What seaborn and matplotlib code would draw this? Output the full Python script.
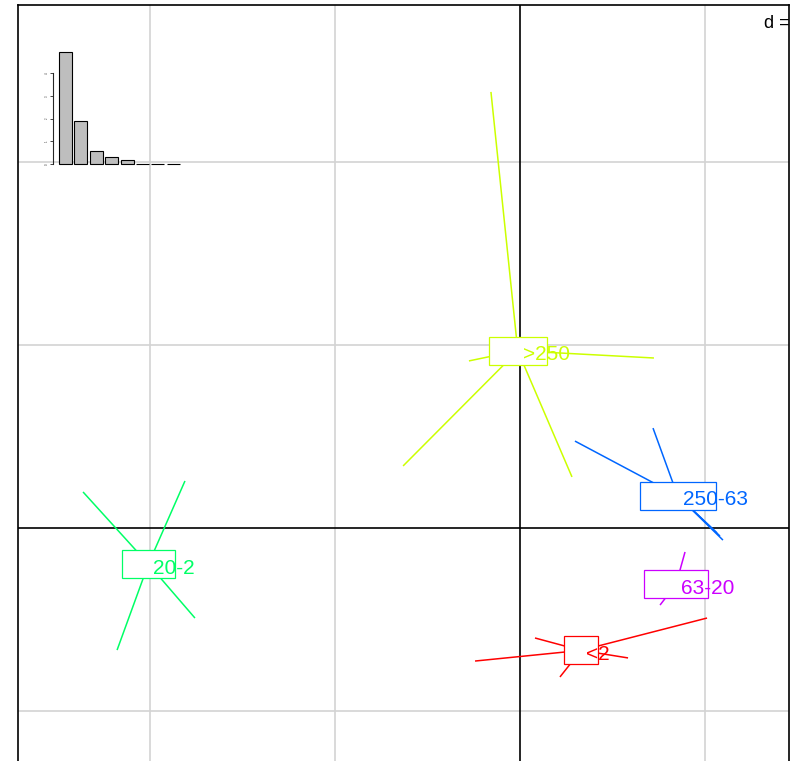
import numpy as np
import matplotlib
matplotlib.use("Agg")
import matplotlib.pyplot as plt
from matplotlib.patches import Rectangle
import seaborn as sns
import pandas as pd

# Factor levels and their rainbow colours
groups = ["<2", ">250", "20-2", "250-63", "63-20"]
group_colors = ["#FF0000", "#CCFF00", "#00FF66", "#0066FF", "#CC00FF"]

# Row scores (axis 1, axis 2) for each level
lt2_x = [-0.243, 0.081, 1.011, 0.584, 0.216]
lt2_y = [-0.727, -0.601, -0.492, -0.710, -0.814]
gt250_x = [-0.157, 0.724, -0.276, -0.632, 0.281]
gt250_y = [2.383, 0.929, 0.913, 0.339, 0.279]
s20_2_x = [-2.362, -1.811, -1.757, -2.178, -1.935]
s20_2_y = [0.197, 0.257, -0.492, -0.667, -0.279]
s250_63_x = [0.297, 0.719, 1.065, 1.081, 1.097]
s250_63_y = [0.475, 0.546, -0.027, -0.044, -0.066]
s63_20_x = [0.892, 0.757, 0.881]
s63_20_y = [-0.131, -0.421, -0.372]

xs = [lt2_x, gt250_x, s20_2_x, s250_63_x, s63_20_x]
ys = [lt2_y, gt250_y, s20_2_y, s250_63_y, s63_20_y]

# Eigenvalues for the screeplot inset
eigenvalues = [4.92, 1.88, 0.59, 0.30, 0.19, 0.02, 0.02, 0.02]
eig_ticks = [0, 1, 2, 3, 4]

grid_step = 1.0
d_label = "d ="

sns.set_style("white")
plt.rcParams["font.family"] = ["Liberation Sans", "DejaVu Sans"]

W, H = 792, 761
fig = plt.figure(figsize=(W / 100, H / 100), dpi=100)

# main panel in pixel geometry (frame runs past the lower edge)
L, R, T, B = 18, 789, 5, 800
ax = fig.add_axes([L / W, 1 - B / H, (R - L) / W, (B - T) / H])
ox, oy, sx, sy = 520, 528, 185.0, 183.0
ax.set_xlim((L - ox) / sx, (R - ox) / sx)
ax.set_ylim((oy - B) / sy, (oy - T) / sy)
ax.set_xticks([])
ax.set_yticks([])
for s in ax.spines.values():
    s.set_color("black")
    s.set_linewidth(1.2)
    s.set_zorder(2.6)

x0, x1 = ax.get_xlim()
y0, y1 = ax.get_ylim()
for gx in np.arange(np.ceil(x0), x1, grid_step):
    if abs(gx) > 1e-9:
        ax.axvline(gx, color="#D3D3D3", lw=1.2, zorder=0)
for gy in np.arange(np.ceil(y0), y1, grid_step):
    if abs(gy) > 1e-9:
        ax.axhline(gy, color="#D3D3D3", lw=1.2, zorder=0)
ax.axvline(0, color="black", lw=1.2, zorder=1)
ax.axhline(0, color="black", lw=1.2, zorder=1)

# stars: centroid -> each row
centroids = []
for gx, gy, col in zip(xs, ys, group_colors):
    cx, cy = np.mean(gx), np.mean(gy)
    centroids.append((cx, cy))
    for px, py in zip(gx, gy):
        ax.plot([cx, px], [cy, py], color=col, lw=1.1, solid_capstyle="butt", zorder=2)

# labels with boxes
texts = []
for (cx, cy), lab, col in zip(centroids, groups, group_colors):
    t = ax.annotate(lab, xy=(cx, cy), xytext=(5, -4), textcoords="offset pixels",
                    ha="left", va="center", fontsize=15, color=col, zorder=5)
    texts.append(t)

fig.canvas.draw()
renderer = fig.canvas.get_renderer()
inv = ax.transData.inverted()
for t, (cx, cy), col in zip(texts, centroids, group_colors):
    tw = t.get_window_extent(renderer).width
    dx, dy = ax.transData.transform((cx, cy))
    bw, bh = tw + 11, 28
    (ax_, ay_) = inv.transform((dx - bw / 2, dy - bh / 2))
    (bx_, by_) = inv.transform((dx + bw / 2, dy + bh / 2))
    ax.add_patch(Rectangle((ax_, ay_), bx_ - ax_, by_ - ay_, facecolor="white",
                           edgecolor=col, lw=0.9, zorder=4))

# scale label in the upper right corner
(bxl, byt) = inv.transform((733, H - 6))
(bxr, byb) = inv.transform((788, H - 42))
ax.add_patch(Rectangle((bxl, byb), bxr - bxl, byt - byb, facecolor="white",
                       edgecolor="none", zorder=3))
(tx, ty) = inv.transform((764, H - 24))
ax.text(tx, ty, d_label, ha="left", va="center", fontsize=13, color="black",
        zorder=3.5, clip_on=False)

# eigenvalue inset
pitch = 15.4
c0 = 65.5
unit = 22.7
il, ir, it, ib = 53, 183, 48, 170
base = 164
axin = fig.add_axes([il / W, 1 - ib / H, (ir - il) / W, (ib - it) / H])
axin.patch.set_alpha(0)
eig_df = pd.DataFrame({"axis": [str(i + 1) for i in range(len(eigenvalues))],
                       "eig": eigenvalues})
sns.barplot(data=eig_df, x="axis", y="eig", ax=axin, color="#BEBEBE",
            edgecolor="black", linewidth=0.8, width=0.84, saturation=1)
axin.set_xlim((il - c0) / pitch, (ir - c0) / pitch)
axin.set_ylim(-(ib - base) / unit, (base - it) / unit)
axin.set_xlabel("")
axin.set_ylabel("")
axin.set_xticks([])
for side in ["top", "right", "bottom"]:
    axin.spines[side].set_visible(False)
axin.spines["left"].set_bounds(min(eig_ticks), max(eig_ticks))
axin.spines["left"].set_linewidth(0.8)
axin.set_yticks(eig_ticks)
axin.set_yticklabels([str(v) for v in eig_ticks], fontsize=2, rotation=90, va="center")
axin.tick_params(axis="y", length=2, width=0.6, pad=1, left=True)

fig.savefig("out.png", dpi=100)
